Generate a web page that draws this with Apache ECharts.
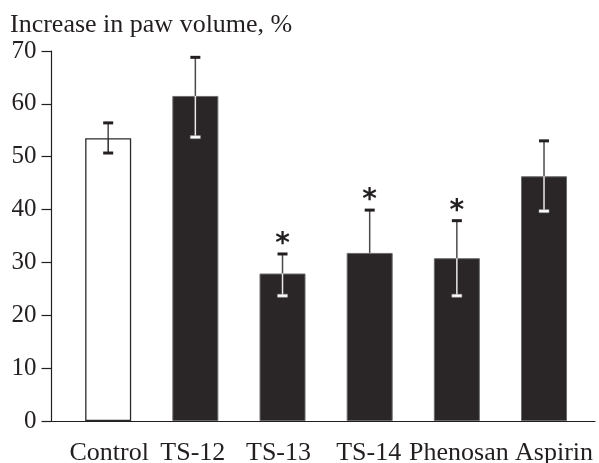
<!DOCTYPE html>
<html>
<head>
<meta charset="utf-8">
<script src="https://cdn.jsdelivr.net/npm/echarts@6/dist/echarts.min.js"></script>
<style>html,body{margin:0;padding:0;background:#fff;}#c{width:599px;height:463px;}</style>
</head>
<body>
<div id="c"></div>
<script>
var categories = ['Control', 'TS-12', 'TS-13', 'TS-14', 'Phenosan', 'Aspirin'];
var means = [53.5, 61.5, 27.9, 31.8, 30.8, 46.3];
var upper = [56.4, 68.8, 31.6, 39.9, 37.9, 53.0];
var lower = [50.7, 53.7, 23.7, null, 23.7, 39.7];
var significant = [false, false, true, true, true, false];
var yTicks = [0, 10, 20, 30, 40, 50, 60, 70];
var yTitle = 'Increase in paw volume, %';

// styling: horizontal nudge (px) of each category label, as in the original typesetting
var labelNudge = [1, -2.5, -4, -1, 2, 10];

var FONT = '"Liberation Serif", "DejaVu Serif", serif';
var DARK = '#231f20';
var chart = echarts.init(document.getElementById('c'));

var rich = {};
labelNudge.forEach(function (d, i) {
  rich['c' + i] = {
    fontFamily: FONT, fontSize: 26, color: DARK,
    padding: d >= 0 ? [0, 0, 0, 2 * d] : [0, -2 * d, 0, 0]
  };
});

var barData = means.map(function (v, i) {
  if (i === 0) {
    return { value: v, itemStyle: { color: '#ffffff', borderColor: '#2a2a2a', borderWidth: 1.3 } };
  }
  return { value: v, itemStyle: { color: '#2a2627', borderColor: '#6a6a6a', borderWidth: 1 } };
});

var errData = categories.map(function (c, i) {
  return [i, means[i], upper[i], lower[i] == null ? '-' : lower[i], significant[i] ? 1 : 0];
});

chart.setOption({
  backgroundColor: '#ffffff',
  animation: false,
  title: {
    text: yTitle, left: 5, top: 7,
    textStyle: { fontFamily: FONT, fontSize: 26, fontWeight: 'normal', color: DARK }
  },
  grid: [
    { left: 51.5, right: 4, top: 51, bottom: 42, containLabel: false, outerBoundsMode: 'none' },
    { left: 64.6, right: 11.4, top: 51, bottom: 42, containLabel: false, outerBoundsMode: 'none' }
  ],
  xAxis: [
    { type: 'category', gridIndex: 0, data: [''], axisLine: { lineStyle: { color: DARK, width: 1.2 } },
      axisTick: { show: false }, axisLabel: { show: false } },
    { type: 'category', gridIndex: 1, data: categories,
      axisLine: { show: false }, axisTick: { show: false },
      axisLabel: { fontFamily: FONT, fontSize: 26, color: DARK, margin: 19, interval: 0,
        formatter: function (v, i) { return '{c' + i + '|' + v + '}'; }, rich: rich } }
  ],
  yAxis: [
    { type: 'value', gridIndex: 0, min: yTicks[0], max: yTicks[yTicks.length - 1], interval: 10,
      axisLine: { show: true, lineStyle: { color: DARK, width: 1.2 } },
      axisTick: { show: true, length: 10, lineStyle: { color: DARK, width: 1.2 } },
      axisLabel: { fontFamily: FONT, fontSize: 25, color: DARK, margin: 15 },
      splitLine: { show: false } },
    { type: 'value', gridIndex: 1, min: yTicks[0], max: yTicks[yTicks.length - 1], interval: 10,
      show: false, splitLine: { show: false } }
  ],
  series: [
    { type: 'bar', xAxisIndex: 1, yAxisIndex: 1, data: barData, barWidth: 46, z: 2 },
    {
      type: 'custom', xAxisIndex: 1, yAxisIndex: 1, data: errData, z: 5,
      renderItem: function (params, api) {
        var x = api.coord([api.value(0), 0])[0];
        var meanY = api.coord([api.value(0), api.value(1)])[1];
        var hiY = api.coord([api.value(0), api.value(2)])[1];
        var loV = api.value(3);
        var isWhite = api.value(0) === 0;
        var children = [];
        children.push({ type: 'line', shape: { x1: x, y1: hiY, x2: x, y2: meanY },
          style: { stroke: '#4a4a4a', lineWidth: 1.5 } });
        children.push({ type: 'rect', shape: { x: x - 5, y: hiY - 1.5, width: 10, height: 3 },
          style: { fill: DARK } });
        if (!isNaN(loV) && loV !== '-' && loV != null) {
          var loY = api.coord([api.value(0), loV])[1];
          if (isWhite) {
            children.push({ type: 'line', shape: { x1: x, y1: meanY, x2: x, y2: loY },
              style: { stroke: '#2a2a2a', lineWidth: 1.5 } });
            children.push({ type: 'rect', shape: { x: x - 5, y: loY - 1.5, width: 10, height: 3 },
              style: { fill: DARK } });
          } else {
            children.push({ type: 'line', shape: { x1: x, y1: meanY, x2: x, y2: loY },
              style: { stroke: '#e8e8e8', lineWidth: 1.5 } });
            children.push({ type: 'rect', shape: { x: x - 5, y: loY - 1.5, width: 10, height: 3 },
              style: { fill: '#ffffff', stroke: '#999', lineWidth: 0.6 } });
          }
        }
        if (api.value(4) === 1) {
          children.push({ type: 'text', style: { text: '*', x: x, y: hiY - 9,
            fontFamily: '"DejaVu Sans", sans-serif', fontSize: 28, fontWeight: 'bold', fill: DARK,
            textAlign: 'center', textVerticalAlign: 'middle' } });
        }
        return { type: 'group', children: children };
      }
    }
  ]
});
</script>
</body>
</html>
